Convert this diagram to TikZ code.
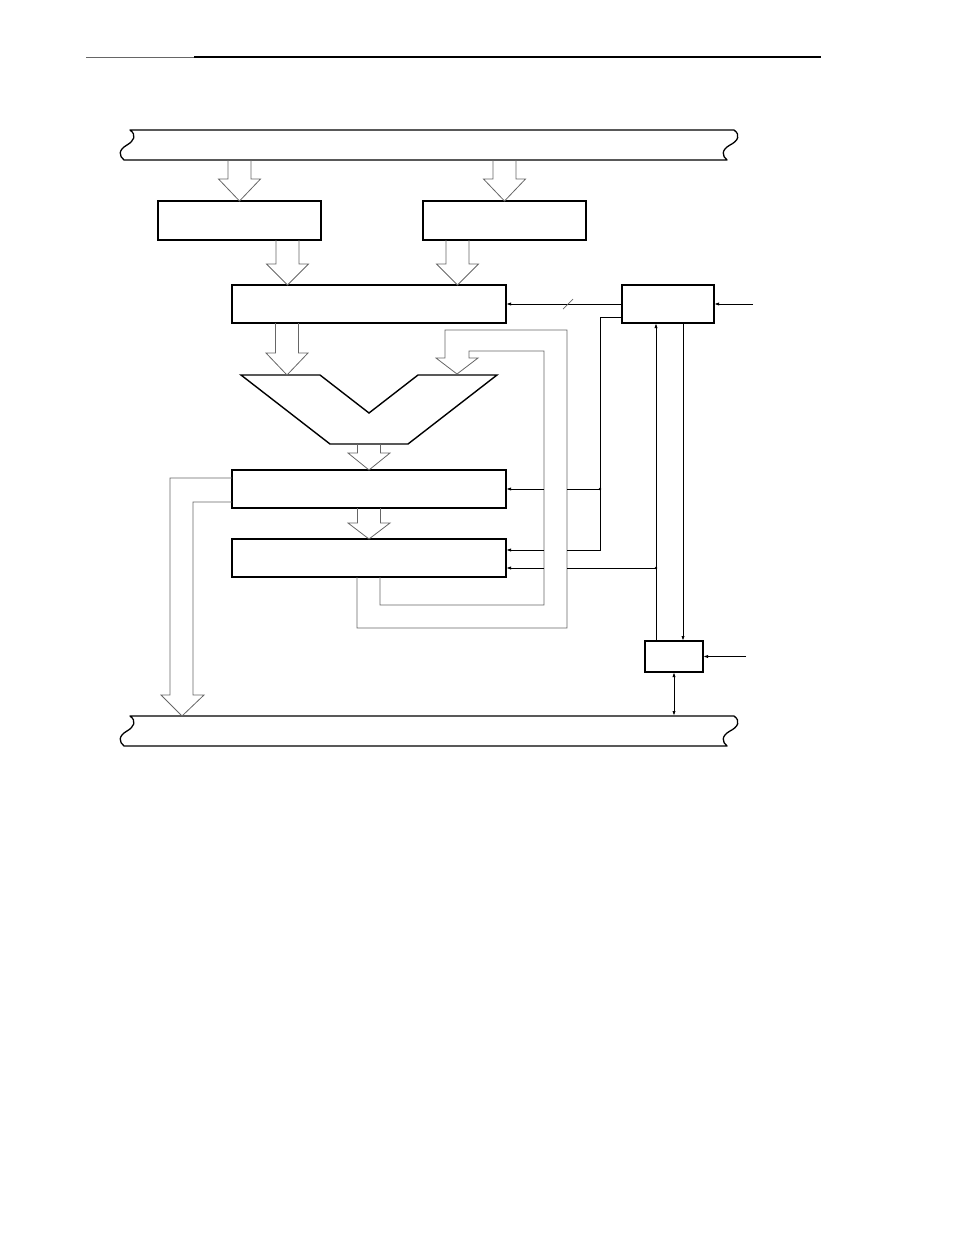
\documentclass[tikz,border=0pt]{standalone}
\usetikzlibrary{arrows.meta}
\newcommand\fatdn[4]{% x centre, y top, y tip, head length
  \draw[fat] (#1-11.5,#2) -- (#1-11.5,#3-#4) -- (#1-21,#3-#4) -- (#1,#3) -- (#1+21,#3-#4) -- (#1+11.5,#3-#4) -- (#1+11.5,#2);}
\begin{document}
\begin{tikzpicture}[x=1pt,y=-1pt,
  box/.style={draw=black,line width=1.6pt,fill=white,inner sep=0pt,outer sep=0pt,anchor=north west},
  fat/.style={draw=black!60,line width=0.8pt,line join=miter},
  chan/.style={draw=black!60,line width=0.8pt},
  wire/.style={draw=black,line width=0.9pt},
  arr/.style={-{Latex[length=5pt,width=3.2pt]}},
  darr/.style={{Latex[length=5pt,width=3.2pt]}-{Latex[length=5pt,width=3.2pt]}},
  bus/.style={draw=black,line width=1.3pt,line join=round}]
\useasboundingbox (0,0) rectangle (954,1235);
% header rule
\draw[black!60,line width=0.8pt] (86,57) -- (194,57);
\draw[black,line width=1.3pt] (194,57) -- (821,57);
% top bus
\draw[bus] (130,130) -- (734,130)
  .. controls (741,135) and (738,141) .. (730,145)
  .. controls (721,150) and (722,156) .. (727,160)
  -- (124,160)
  .. controls (119,156) and (118,150) .. (127,145)
  .. controls (134,141) and (137,135) .. (130,130) -- cycle;
% bottom bus
\draw[bus] (130,716) -- (734,716)
  .. controls (741,721) and (738,727) .. (730,731)
  .. controls (721,736) and (722,742) .. (727,746)
  -- (124,746)
  .. controls (119,742) and (118,736) .. (127,731)
  .. controls (134,727) and (137,721) .. (130,716) -- cycle;
% boxes
\node[box,minimum width=163pt,minimum height=39pt] (A) at (158,201) {};
\node[box,minimum width=163pt,minimum height=39pt] (B) at (423,201) {};
\node[box,minimum width=274pt,minimum height=38pt] (C) at (232,285) {};
\node[box,minimum width=92pt,minimum height=38pt] (D) at (622,285) {};
\node[box,minimum width=274pt,minimum height=38pt] (E1) at (232,470) {};
\node[box,minimum width=274pt,minimum height=38pt] (E2) at (232,539) {};
\node[box,minimum width=58pt,minimum height=31pt] (F) at (645,641) {};
% ALU
\draw[line width=1.4pt,line join=miter] (241,375) -- (320,375) -- (369,413) -- (418,375) -- (497,375) -- (408,444) -- (330,444) -- cycle;
\coordinate (alu) at (369,430);
% hollow arrows
\fatdn{239.5}{160}{201}{22}
\fatdn{504.5}{160}{201}{22}
\fatdn{287.5}{240}{285}{21}
\fatdn{457.5}{240}{285}{21}
\fatdn{287}{323}{375}{22}
\fatdn{369}{444}{470}{17}
\fatdn{369}{508}{539}{16}
% output channel to lower bus
\draw[fat] (232,478) -- (170,478) -- (170,695) -- (161,695) -- (182,716) -- (204,695) -- (193,695) -- (193,502) -- (232,502);
% feedback channel
\draw[chan,line join=miter] (357,577) -- (357,628) -- (567,628) -- (567,330) -- (445,330) -- (445,358) -- (436,358) -- (457,374) -- (478,358) -- (469,358) -- (469,351) -- (544,351) -- (544,605) -- (380,605) -- (380,577);
% control wires
\coordinate (inD) at (753,304);
\coordinate (inF) at (746,656.5);
\coordinate (dL) at (622,317);
\coordinate (jA) at (600,489);
\coordinate (jB) at (656,568);
\coordinate (busF) at (674,716);
\draw[wire,arr] (D) -- (C);
\draw[black!60,line width=0.7pt] (563,309) -- (573,299);
\draw[wire,arr] (inD) -- (D);
\draw[wire] (dL) -- (600,317) -- (600,550) -- (567,550);
\draw[wire,arr] (544,550) -- (506,550);
\draw[wire] (jA) -- (567,489);
\draw[wire,arr] (544,489) -- (E1);
\draw[wire,arr] (656,641) -- (656,323);
\draw[wire] (jB) -- (567,568);
\draw[wire,arr] (544,568) -- (506,568);
\draw[wire,arr] (683,323) -- (683,641);
\draw[wire,arr] (inF) -- (F);
\draw[wire,darr] (F) -- (busF);
\fill (jA) circle (1.3pt);
\fill (jB) circle (1.3pt);
\end{tikzpicture}
\end{document}
